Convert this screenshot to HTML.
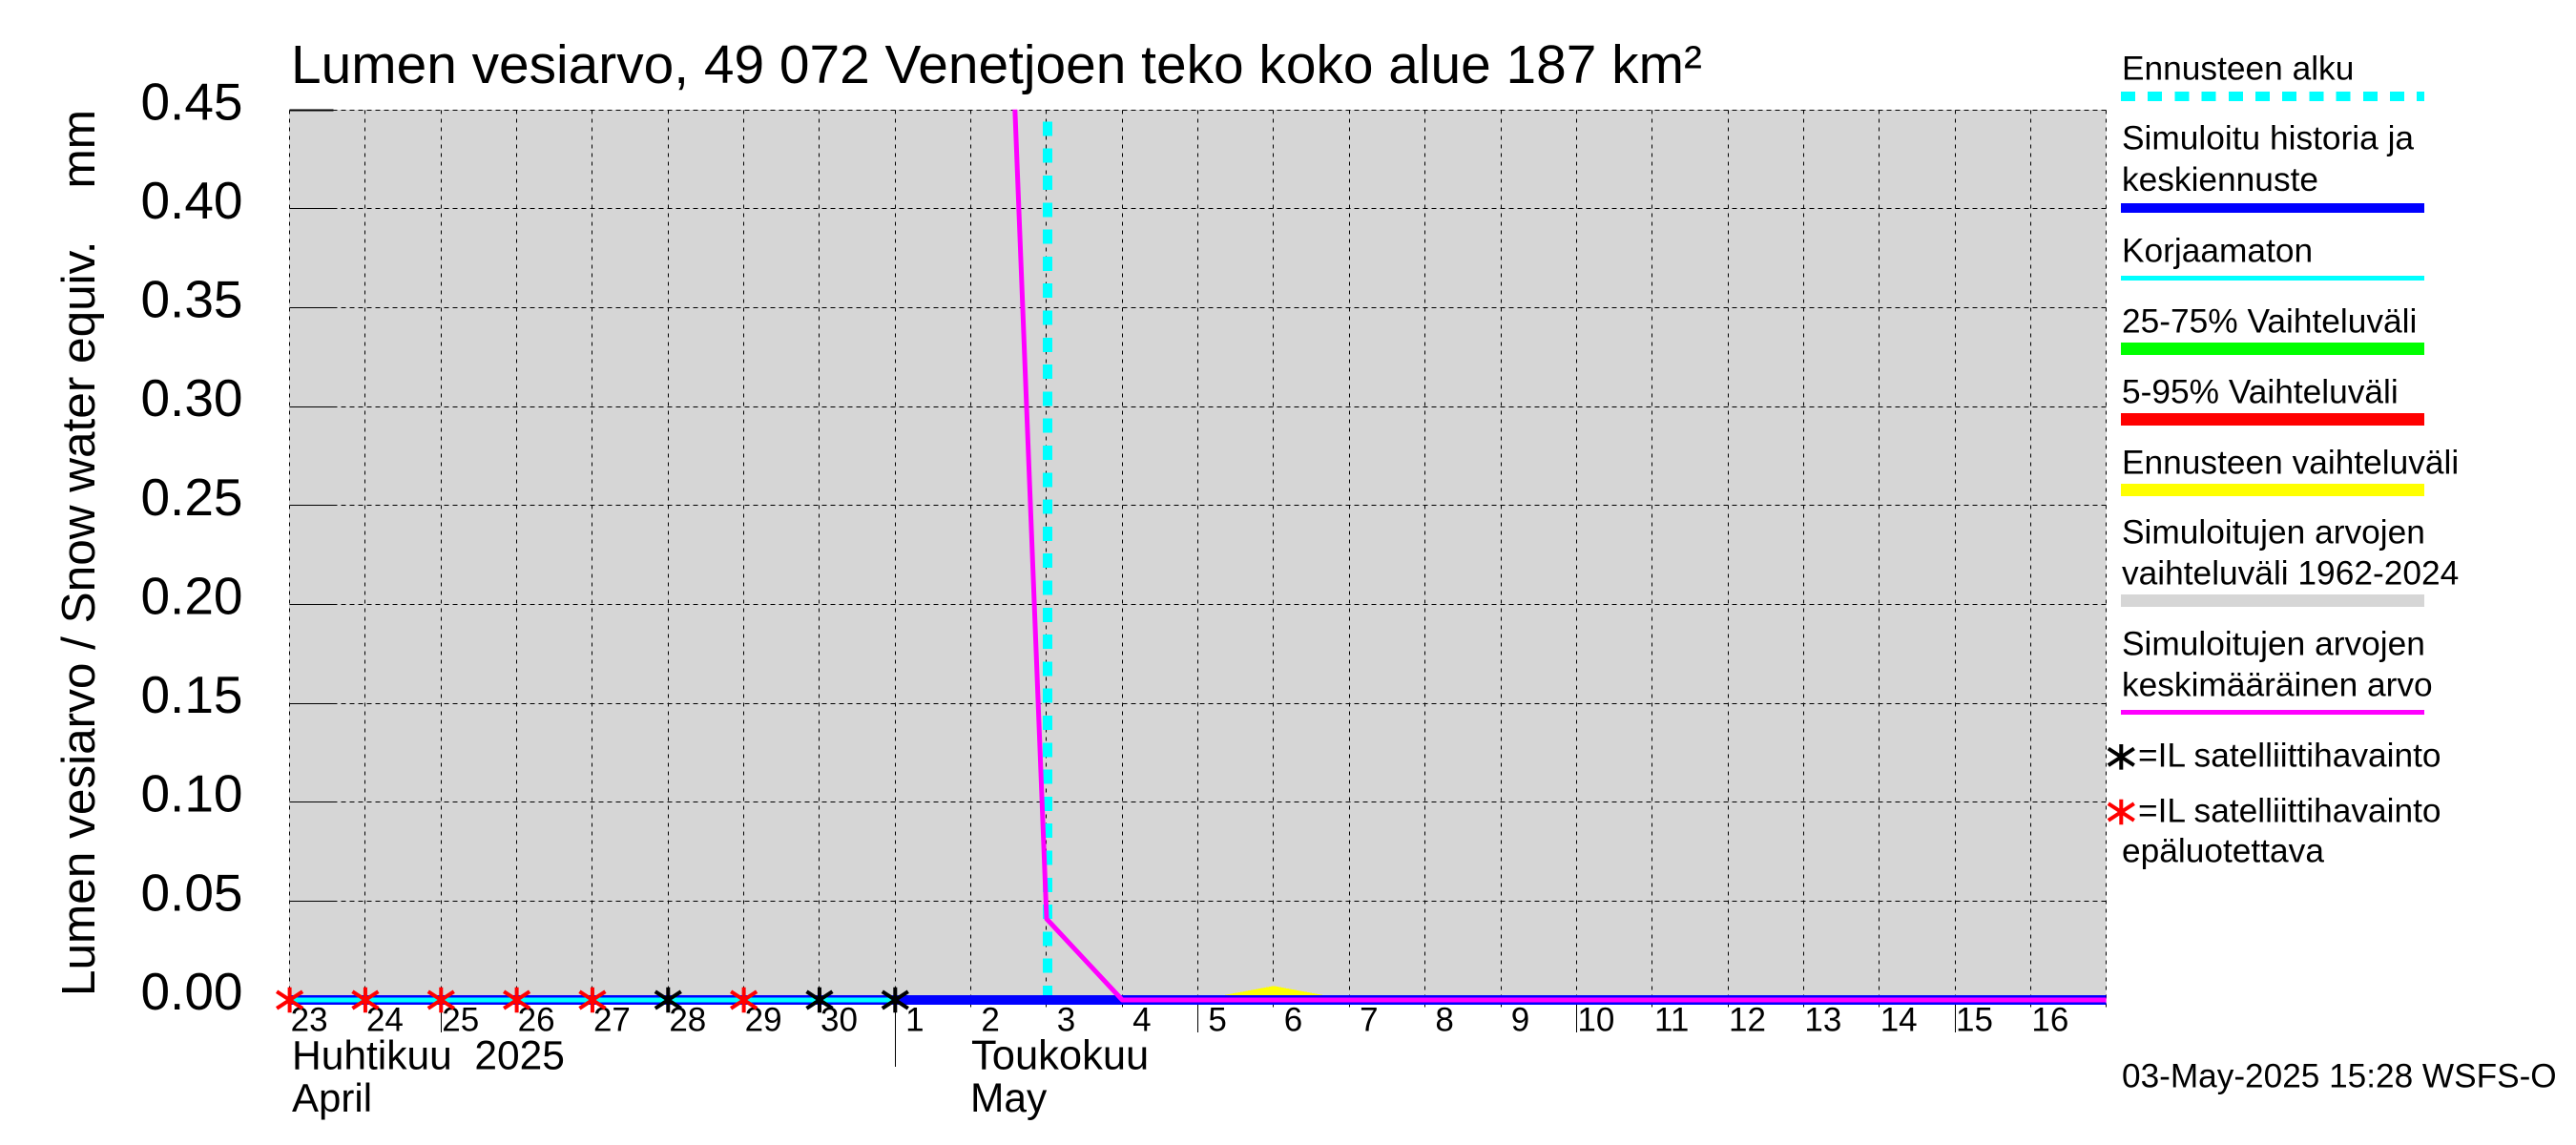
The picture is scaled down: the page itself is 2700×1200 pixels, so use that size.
<!DOCTYPE html>
<html lang="fi">
<head>
<meta charset="utf-8">
<title>Lumen vesiarvo, 49 072 Venetjoen teko koko alue 187 km²</title>
<style>
html,body{margin:0;padding:0;background:#fff;}
svg{display:block;}
text{font-family:"Liberation Sans",sans-serif;fill:#000;white-space:pre;}
.lg{font-size:35.3px;}
</style>
</head>
<body>
<svg id="chart" xmlns="http://www.w3.org/2000/svg" width="2700" height="1200" viewBox="0 0 2700 1200">
  <rect x="0" y="0" width="2700" height="1200" fill="#fff"/>
  <g id="plot"></g>
  <text x="305" y="87" font-size="56.85">Lumen vesiarvo, 49 072 Venetjoen teko koko alue 187 km²</text>
  <text x="99" y="1044" font-size="49.5" transform="rotate(-90 99 1044)" xml:space="preserve">Lumen vesiarvo / Snow water equiv.    mm</text>
  <text x="306" y="1120.7" font-size="42.5" xml:space="preserve">Huhtikuu  2025</text>
  <text x="306" y="1165" font-size="42">April</text>
  <text x="1018" y="1120.7" font-size="43.5">Toukokuu</text>
  <text x="1017" y="1165" font-size="42.5">May</text>

  <g>
    <g>
      <text class="lg" x="2224" y="83.3">Ennusteen alku</text>
      <line x1="2223" y1="101" x2="2541" y2="101" stroke="#00ffff" stroke-width="10" stroke-dasharray="15 13.2" shape-rendering="crispEdges"/>
    </g>
    <g>
      <text class="lg" x="2224" y="156.7">Simuloitu historia ja</text>
      <text class="lg" x="2224" y="200">keskiennuste</text>
      <rect x="2223" y="213" width="318" height="10" fill="#0000ff"/>
    </g>
    <g>
      <text class="lg" x="2224" y="274.3">Korjaamaton</text>
      <rect x="2223" y="289" width="318" height="5" fill="#00ffff"/>
    </g>
    <g>
      <text class="lg" x="2224" y="348.3">25-75% Vaihteluväli</text>
      <rect x="2223" y="359" width="318" height="13" fill="#00ff00"/>
    </g>
    <g>
      <text class="lg" x="2224" y="422.3">5-95% Vaihteluväli</text>
      <rect x="2223" y="433" width="318" height="13" fill="#ff0000"/>
    </g>
    <g>
      <text class="lg" x="2224" y="496.7">Ennusteen vaihteluväli</text>
      <rect x="2223" y="507" width="318" height="13" fill="#ffff00"/>
    </g>
    <g>
      <text class="lg" x="2224" y="569.3">Simuloitujen arvojen</text>
      <text class="lg" x="2224" y="612.7">vaihteluväli 1962-2024</text>
      <rect x="2223" y="623" width="318" height="13" fill="#d6d6d6"/>
    </g>
    <g>
      <text class="lg" x="2224" y="686.7">Simuloitujen arvojen</text>
      <text class="lg" x="2224" y="729.3">keskimääräinen arvo</text>
      <rect x="2223" y="744" width="318" height="5" fill="#ff00ff"/>
    </g>
    <g>
      <path d="M2223.3 780V806.6M2209.8 784.5L2236.8 802.1M2236.8 784.5L2209.8 802.1" stroke="#000" stroke-width="4" fill="none"/>
      <text class="lg" x="2241" y="803.3">=IL satelliittihavainto</text>
    </g>
    <g>
      <path d="M2223.3 837.7V864.3M2209.8 842.2L2236.8 859.8M2236.8 842.2L2209.8 859.8" stroke="#ff0000" stroke-width="4" fill="none"/>
      <text class="lg" x="2241" y="861.7">=IL satelliittihavainto</text>
      <text class="lg" x="2224" y="903.3">epäluotettava</text>
    </g>
  </g>
  <text x="2224" y="1139.3" font-size="35.2">03-May-2025 15:28 WSFS-O</text>
</svg>
<script>
// Chart data: one entry per day, 23 April .. 17 May 2025 (the last is the axis end, unlabelled)
const dayLabels = ["23","24","25","26","27","28","29","30","1","2","3","4","5","6","7","8","9","10","11","12","13","14","15","16",""];
const majorTickDays = ["25","5","10","15"];
const monthStartDays = ["1"];
const yTicks = [0,0.05,0.10,0.15,0.20,0.25,0.30,0.35,0.40,0.45];
const yTickLabels = ["0.00","0.05","0.10","0.15","0.20","0.25","0.30","0.35","0.40","0.45"];
const simulatedHistory = [0,0,0,0,0,0,0,0,0,0,0,0,0,0,0,0,0,0,0,0,0,0,0,0,0];
const uncorrected = [0,0,0,0,0,0,0,0,0,null,null,null,null,null,null,null,null,null,null,null,null,null,null,null,null];
const simulatedMean = [null,null,null,null,null,null,null,null,null,1.02,0.041,0,0,0,0,0,0,0,0,0,0,0,0,0,0];
const forecastUpper = [null,null,null,null,null,null,null,null,null,null,0,0,0,0.0071,0,0,0,0,0,0,0,0,0,0,0];
const forecastLower = [null,null,null,null,null,null,null,null,null,null,0,0,0,0,0,0,0,0,0,0,0,0,0,0,0];
const reliableObs = [null,null,null,null,null,0,null,0,0,null,null,null,null,null,null,null,null,null,null,null,null,null,null,null,null];
const unreliableObs = [0,0,0,0,0,null,0,null,null,null,null,null,null,null,null,null,null,null,null,null,null,null,null,null,null];
const forecastStartIndex = 10;

const svgNS = "http://www.w3.org/2000/svg";
const plot = document.getElementById("plot");
const xLeft = 303.6, xRight = 2207.7, yBottom = 1048, yTop = 115.3, yMax = 0.45;
function xAt(i){ return xLeft + i * (xRight - xLeft) / (dayLabels.length - 1); }
function yAt(v){ return yBottom - (v / yMax) * (yBottom - yTop); }
function snap(p){ return Math.floor(p) + 0.5; }
function make(tag, attrs, parent){
  const el = document.createElementNS(svgNS, tag);
  for (const k in attrs) el.setAttribute(k, attrs[k]);
  (parent || plot).appendChild(el);
  return el;
}
function linePoints(series){
  const pts = [];
  series.forEach(function(v, i){ if (v !== null) pts.push(xAt(i).toFixed(1) + "," + yAt(v).toFixed(1)); });
  return pts.join(" ");
}

// clip for series
const defs = make("defs", {});
const clip = make("clipPath", {id: "plot-clip"}, defs);
make("rect", {x: xLeft, y: yTop - 0.5, width: xRight - xLeft + 1, height: 1100 - yTop}, clip);

// background
const bg = make("rect", {x: snap(xLeft) - 0.5, y: snap(yTop) - 0.5, width: xRight - xLeft + 0.5, height: yBottom - yTop, fill: "#d6d6d6"});



// horizontal grid, y ticks, y labels
yTicks.forEach(function(v, i){
  const y = snap(yAt(v));
  const grid = make("line", {x1: xLeft, x2: xRight, y1: y, y2: y, stroke: "#000", "stroke-width": 1, "stroke-dasharray": "5 4", "shape-rendering": "crispEdges"});
  
  
  const tick = make("line", {x1: xLeft, x2: xLeft + 46, y1: y, y2: y, stroke: "#000", "stroke-width": v === yMax ? 2 : 1, "shape-rendering": "crispEdges"});
  
  
  const label = make("text", {x: 254.5, y: yAt(v) + 10, "font-size": 55, "text-anchor": "end"});
  label.textContent = yTickLabels[i];
  
  
});

// vertical grid, x ticks, x labels
dayLabels.forEach(function(d, i){
  const x = snap(xAt(i));
  const grid = make("line", {x1: x, x2: x, y1: yTop, y2: 1057, stroke: "#000", "stroke-width": 1, "stroke-dasharray": "4 5", "shape-rendering": "crispEdges"});
  
  
  if (d === "") return;
  if (majorTickDays.indexOf(d) >= 0 || monthStartDays.indexOf(d) >= 0) {
    const long = monthStartDays.indexOf(d) >= 0;
    const tick = make("line", {x1: x, x2: x, y1: 1053, y2: long ? 1118 : 1082, stroke: "#000", "stroke-width": 1, "shape-rendering": "crispEdges"});
    
    
  }
  const label = make("text", {x: xAt(i) + 20.5, y: 1080.7, "font-size": 35, "text-anchor": "middle"});
  label.textContent = d;
  
  
});

// forecast range band
const upperPts = [], lowerPts = [];
forecastUpper.forEach(function(v, i){
  if (v !== null) {
    upperPts.push(xAt(i).toFixed(1) + "," + yAt(v).toFixed(1));
    lowerPts.unshift(xAt(i).toFixed(1) + "," + yAt(forecastLower[i]).toFixed(1));
  }
});
const forecastBand = make("polygon", {points: upperPts.concat(lowerPts).join(" "), fill: "#ffff00", "shape-rendering": "crispEdges"});



// forecast start marker
const startX = xAt(forecastStartIndex) + 1;
const startLine = make("line", {x1: startX, x2: startX, y1: yBottom, y2: yTop, stroke: "#00ffff", "stroke-width": 10, "stroke-dasharray": "15 13.3", "shape-rendering": "crispEdges"});



// series lines
const historyLine = make("polyline", {points: linePoints(simulatedHistory), fill: "none", stroke: "#0000ff", "stroke-width": 10, "shape-rendering": "crispEdges"});



const uncorrectedLine = make("polyline", {points: linePoints(uncorrected), fill: "none", stroke: "#00ffff", "stroke-width": 5, "shape-rendering": "crispEdges"});



const meanLine = make("polyline", {points: linePoints(simulatedMean), fill: "none", stroke: "#ff00ff", "stroke-width": 5, "stroke-linejoin": "round", "clip-path": "url(#plot-clip)"});



// observation markers
function starPath(cx, cy){
  return "M" + cx + " " + (cy - 13.3) + "V" + (cy + 13.3) +
         "M" + (cx - 13.5) + " " + (cy - 8.8) + "L" + (cx + 13.5) + " " + (cy + 8.8) +
         "M" + (cx + 13.5) + " " + (cy - 8.8) + "L" + (cx - 13.5) + " " + (cy + 8.8);
}
unreliableObs.forEach(function(v, i){
  if (v === null) return;
  const star = make("path", {d: starPath(xAt(i), yAt(v)), fill: "none", stroke: "#ff0000", "stroke-width": 4});
  
  
});
reliableObs.forEach(function(v, i){
  if (v === null) return;
  const star = make("path", {d: starPath(xAt(i), yAt(v)), fill: "none", stroke: "#000", "stroke-width": 4});
  
  
});
</script>
</body>
</html>
